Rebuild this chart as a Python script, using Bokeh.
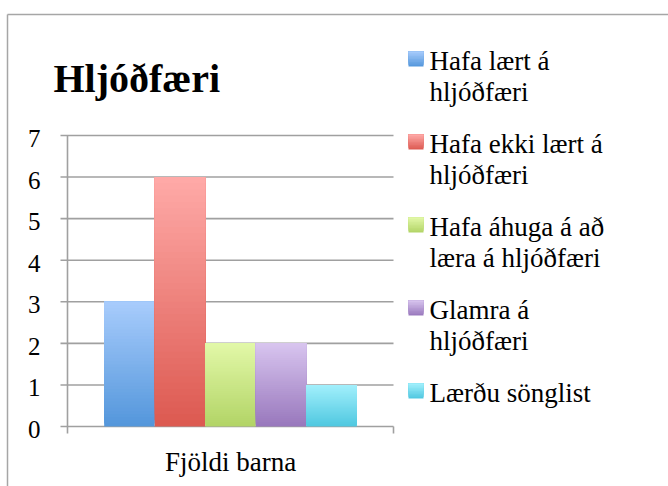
from bokeh.plotting import figure
from bokeh.models import Range1d, ColumnDataSource
from bokeh.core.properties import value
from bokeh.embed import file_html
from bokeh.resources import INLINE

# ---- data ----
title = "Hljóðfæri"
category = "Fjöldi barna"
series = ["Hafa lært á\nhljóðfæri", "Hafa ekki lært á\nhljóðfæri",
          "Hafa áhuga á að\nlæra á hljóðfæri", "Glamra á\nhljóðfæri", "Lærðu sönglist"]
values = [3, 6, 2, 2, 1]
top_colors = ["#a8ccfc", "#ffaaa8", "#e2f8a8", "#d8c5ef", "#a2f0fc"]
bottom_colors = ["#5396db", "#dc5950", "#b2d466", "#9877bc", "#4fc7e0"]
y_ticks = [0, 1, 2, 3, 4, 5, 6, 7]

FONT = "Liberation Serif"
GRID = "#a0a0a0"
W, H = 668, 486
PX0, PX1 = 67, 393       # canvas x of plot area (left, right)
PY0, PY1 = 135, 426      # canvas y of plot area (top = 7, bottom = 0)
YMAX = 7.0


def xs(px):
    return (px - PX0) / (PX1 - PX0)


def ys(py):
    return (PY1 - py) * YMAX / (PY1 - PY0)


def hex2rgb(h):
    h = h.lstrip("#")
    return tuple(int(h[i:i + 2], 16) for i in (0, 2, 4))


def mix(c1, c2, t):
    a, b = hex2rgb(c1), hex2rgb(c2)
    return "#%02x%02x%02x" % tuple(int(round(a[k] + (b[k] - a[k]) * t)) for k in range(3))


p = figure(width=W, height=H, output_backend="svg", toolbar_location=None,
           x_range=Range1d(xs(0), xs(W)), y_range=Range1d(ys(H), ys(0)),
           x_axis_location=None, y_axis_location=None,
           min_border=0, title=None)
p.outline_line_color = None
p.xgrid.visible = False
p.ygrid.visible = False
p.background_fill_color = "white"
p.border_fill_color = "white"

# outer chart border (top and left edges visible)
p.segment(x0=[xs(7), xs(7)], y0=[ys(14), ys(14)], x1=[xs(W + 5), xs(7)], y1=[ys(14), ys(H + 5)],
          line_color="#a6a6a6", line_width=1.5)

# gridlines + tick marks on y
p.segment(x0=[xs(60)] * len(y_ticks), y0=y_ticks, x1=[1] * len(y_ticks), y1=y_ticks,
          line_color=GRID, line_width=1.6)
# y axis line
p.segment(x0=[0], y0=[0], x1=[0], y1=[YMAX], line_color=GRID, line_width=1.6)
# x axis tick marks at category boundaries
p.segment(x0=[0, 1], y0=[0, 0], x1=[0, 1], y1=[ys(433), ys(433)], line_color=GRID, line_width=1.6)

# y tick labels
p.text(x=[xs(40)] * len(y_ticks), y=y_ticks, text=[str(t) for t in y_ticks],
       text_font=value(FONT), text_font_size="25px", text_align="right",
       text_baseline="alphabetic", y_offset=3, text_color="black")

# bars with vertical gradient (layered slices, no seams)
n = len(values)
bw = 0.155
N = 40
L, R, B, T, C = [], [], [], [], []
for i, v in enumerate(values):
    cx = 0.5 + (i - (n - 1) / 2) * bw
    for k in range(N):
        L.append(cx - bw / 2); R.append(cx + bw / 2)
        B.append(v * k / N); T.append(v)
        C.append(mix(bottom_colors[i], top_colors[i], (k + 0.5) / N))
p.quad(left="left", right="right", bottom="bottom", top="top", fill_color="color",
       line_color=None, source=ColumnDataSource(dict(left=L, right=R, bottom=B, top=T, color=C)))

# category label
p.text(x=[0.5], y=[ys(461)], text=[category], text_font=value(FONT), text_font_size="27px",
       text_align="center", text_baseline="alphabetic", text_color="black")

# title
p.text(x=[xs(53)], y=[ys(78)], text=[title], text_font=value(FONT), text_font_size="40px",
       text_font_style="bold", text_align="left", text_baseline="alphabetic", text_color="black")

# legend
LEG_BASE, LEG_STEP, LINE_STEP = 60, 83, 31.5
SW_X0, SW_X1, SW = 408, 423, 15
lx, ly, lt = [], [], []
sL, sR, sB, sT, sC = [], [], [], [], []
M = 10
for i, s in enumerate(series):
    base = LEG_BASE + i * LEG_STEP
    for j, line in enumerate(s.split("\n")):
        lx.append(xs(429)); ly.append(ys(base + j * LINE_STEP)); lt.append(line)
    top = base - 9
    for k in range(M):
        sL.append(xs(SW_X0)); sR.append(xs(SW_X1))
        sB.append(ys(top + SW * (k + 1) / M)); sT.append(ys(top))
        sC.append(mix(top_colors[i], bottom_colors[i], (k + 0.5) / M))
# draw swatch slices from bottom up so upper slices overlay
order = []
for i in range(len(series)):
    order += [i * M + k for k in reversed(range(M))]
p.quad(left=[sL[o] for o in order], right=[sR[o] for o in order],
       bottom=[sB[o] for o in order], top=[sT[o] for o in order],
       fill_color=[sC[o] for o in order], line_color=None)
p.text(x=lx, y=ly, text=lt, text_font=value(FONT), text_font_size="27px",
       text_align="left", text_baseline="alphabetic", text_color="black")

open("out.html", "w").write(file_html(p, INLINE))
